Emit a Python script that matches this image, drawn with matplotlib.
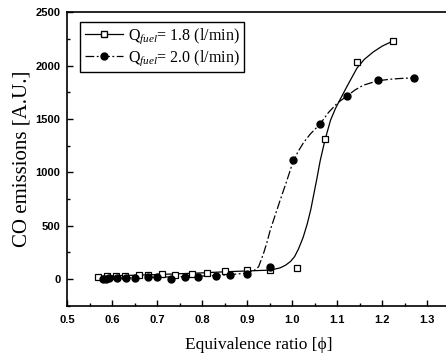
import numpy as np
import matplotlib
matplotlib.use("Agg")
import matplotlib.pyplot as plt
from matplotlib.lines import Line2D
from matplotlib.ticker import MultipleLocator

plt.rcParams['mathtext.fontset'] = 'custom'
plt.rcParams['mathtext.rm'] = 'Liberation Serif'
plt.rcParams['mathtext.it'] = 'Liberation Serif:italic'

# --- data ---
# Q_fuel = 1.8 l/min (open squares)
phi_18 = [0.568, 0.588, 0.609, 0.629, 0.660, 0.679, 0.710, 0.740, 0.777,
          0.810, 0.851, 0.899, 0.951, 1.010, 1.073, 1.144, 1.223]
co_18 = [20, 30, 30, 30, 35, 40, 45, 40, 50, 60, 75, 85, 85, 105,
         1310, 2035, 2230]

# Q_fuel = 2.0 l/min (filled circles)
phi_20 = [0.578, 0.585, 0.592, 0.610, 0.630, 0.651, 0.679, 0.699, 0.731,
          0.761, 0.790, 0.831, 0.862, 0.899, 0.951, 1.001, 1.062, 1.122,
          1.190, 1.270]
co_20 = [5, 5, 8, 8, 10, 8, 15, 15, 5, 15, 20, 25, 40, 45, 110, 1120,
         1455, 1715, 1870, 1885]

# fitted curves
fit_phi_18 = [0.568, 0.60, 0.65, 0.70, 0.75, 0.80, 0.85, 0.90, 0.94, 0.96,
              0.973, 0.985, 0.996, 1.005, 1.014, 1.024, 1.033, 1.041, 1.048,
              1.055, 1.062, 1.073, 1.085, 1.096, 1.107, 1.122, 1.144, 1.16,
              1.18, 1.20, 1.223]
fit_co_18 = [25, 30, 36, 42, 50, 58, 68, 76, 82, 92, 105, 130, 165, 210,
             285, 390, 515, 650, 800, 950, 1110, 1310, 1490, 1600, 1690,
             1810, 1980, 2060, 2130, 2185, 2231]

fit_phi_20 = [0.578, 0.65, 0.70, 0.75, 0.80, 0.85, 0.88, 0.90, 0.915, 0.925,
              0.936, 0.944, 0.951, 0.962, 0.973, 0.986, 1.0, 1.012, 1.025,
              1.04, 1.062, 1.08, 1.10, 1.122, 1.14, 1.158, 1.19, 1.22, 1.24,
              1.27]
fit_co_20 = [5, 12, 18, 22, 28, 38, 48, 58, 80, 115, 240, 350, 460, 600,
             740, 900, 1080, 1190, 1280, 1360, 1455, 1560, 1650, 1718, 1775,
             1818, 1860, 1875, 1881, 1887]

x_ticks = [0.5, 0.6, 0.7, 0.8, 0.9, 1.0, 1.1, 1.2, 1.3]
y_ticks = [0, 500, 1000, 1500, 2000, 2500]
labels = [r'Q$_{fuel}$= 1.8 (l/min)', r'Q$_{fuel}$= 2.0 (l/min)']

fig = plt.figure(figsize=(4.46, 3.56), dpi=100)
ax = fig.add_axes([0.1513, 0.1413, 0.857, 0.8236])

ax.plot(fit_phi_18, fit_co_18, '-', color='black', lw=0.9)
ax.plot(fit_phi_20, fit_co_20, color='black', lw=0.9,
        linestyle=(0, (7, 2, 1.5, 2)))
ax.plot(phi_18, co_18, 's', mfc='white', mec='black', ms=4.5, mew=0.9)
ax.plot(phi_20, co_20, 'o', color='black', ms=5)

ax.set_xlim(0.5, 1.35)
ax.set_ylim(-250, 2500)
ax.set_xticks(x_ticks)
ax.set_yticks(y_ticks)
ax.set_xticklabels(['%.1f' % v for v in x_ticks])
ax.xaxis.set_minor_locator(MultipleLocator(0.05))
ax.yaxis.set_minor_locator(MultipleLocator(250))
ax.tick_params(which='both', direction='in', top=False, right=False,
               labelsize=8, width=1.0)
ax.tick_params(which='major', length=4, pad=5)
ax.tick_params(axis='x', which='major', pad=7)
ax.tick_params(which='minor', length=2)
for lab in ax.get_xticklabels() + ax.get_yticklabels():
    lab.set_fontfamily('Liberation Sans')
    lab.set_fontweight('bold')
for s in ax.spines.values():
    s.set_linewidth(1.2)

ax.set_xlabel('Equivalence ratio [\u03d5]', family='Liberation Serif',
              fontsize=12.5, labelpad=8)
ax.set_ylabel('CO emissions [A.U.]', family='Liberation Serif',
              fontsize=15, labelpad=3)

handles = [Line2D([], [], color='black', lw=0.9, marker='s', mfc='white',
                  mec='black', ms=4.5),
           Line2D([], [], color='black', lw=0.9, marker='o', ms=5,
                  linestyle=(0, (7, 2, 1.5, 2)))]
leg = ax.legend(handles, labels, loc='upper left', numpoints=1,
                prop={'family': 'Liberation Serif', 'size': 11.5},
                fancybox=False, edgecolor='black', framealpha=1,
                handlelength=2.4, handletextpad=0.3, borderpad=0.3,
                labelspacing=0.1, bbox_to_anchor=(0.012, 0.995))
leg.get_frame().set_linewidth(1.0)

fig.savefig('out.png', dpi=100)
